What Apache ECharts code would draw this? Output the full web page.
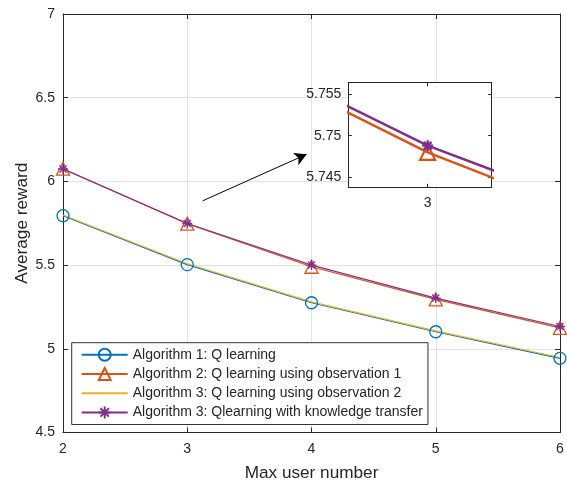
<!DOCTYPE html>
<html>
<head>
<meta charset="utf-8">
<script src="https://cdn.jsdelivr.net/npm/echarts@6/dist/echarts.min.js"></script>
<style>html,body{margin:0;padding:0;background:#fff;}#c{width:567px;height:482px;}</style>
</head>
<body>
<div id="c"></div>
<script>
var userNumbers = [2, 3, 4, 5, 6];
var seriesNames = [
  'Algorithm 1: Q learning',
  'Algorithm 2: Q learning using observation 1',
  'Algorithm 3: Q learning using observation 2',
  'Algorithm 3: Qlearning with knowledge transfer'
];
var alg1 = [5.795, 5.503, 5.275, 5.102, 4.943];
var alg2 = [6.076, 5.7480, 5.490, 5.295, 5.125];
var alg3 = [5.799, 5.508, 5.280, 5.107, 4.948];
var alg4 = [6.074, 5.7488, 5.500, 5.303, 5.133];
var yTicks = [4.5, 5, 5.5, 6, 6.5, 7];
var insetXRange = [2.98555, 3.01166];
var insetYRange = [5.7438, 5.75636];
var insetXTicks = [3];
var insetYTicks = [5.745, 5.75, 5.755];
var arrowStart = [3.124, 5.884];
var arrowEnd = [3.961, 6.162];

var FONT = "'Liberation Sans', Arial, Helvetica, sans-serif";
var TXT = '#262626';
var C = ['#0072BD', '#D95319', '#EDB120', '#7E2F8E'];
var ASTER = 'path://M10,0L10,20M0,10L20,10M3,3L17,17M3,17L17,3';

function pairs(ys) { return userNumbers.map(function (x, i) { return [x, ys[i]]; }); }

var chart = echarts.init(document.getElementById('c'), null, {renderer: 'canvas'});

function mainAxis(extra) {
  var base = {
    gridIndex: 0, type: 'value',
    axisLine: {show: true, onZero: false, lineStyle: {color: TXT, width: 1}},
    axisTick: {show: true, inside: true, length: 5, lineStyle: {color: TXT}},
    splitLine: {show: false},
    axisLabel: {show: false}
  };
  return Object.assign(base, extra);
}
function insetAxis(extra) {
  var base = {
    gridIndex: 1, type: 'value', z: 6,
    axisLine: {show: true, onZero: false, lineStyle: {color: TXT, width: 1}},
    axisTick: {show: true, inside: true, length: 3.5, lineStyle: {color: TXT}},
    splitLine: {show: false},
    axisLabel: {show: false}
  };
  return Object.assign(base, extra);
}

var option = {
  animation: false,
  backgroundColor: '#fff',
  textStyle: {fontFamily: FONT, color: TXT},
  grid: [
    {left: 63, right: 7, top: 14, bottom: 49.5, containLabel: false, outerBoundsMode: 'none'},
    {left: 348.3, top: 82.7, width: 143.4, height: 104.6, show: true, backgroundColor: '#fff', borderWidth: 0, z: 5,
      containLabel: false, outerBoundsMode: 'none'}
  ],
  legend: {
    orient: 'vertical', left: 71.7, top: 342.7,
    data: seriesNames,
    backgroundColor: '#fff', borderColor: '#333', borderWidth: 1,
    padding: [5.1, 5, 5.1, 9],
    itemWidth: 46, itemHeight: 15, itemGap: 5.2,
    textStyle: {fontFamily: FONT, fontSize: 14, color: TXT}
  },
  xAxis: [
    mainAxis({min: 2, max: 6, interval: 1, position: 'bottom',
      name: 'Max user number', nameLocation: 'middle', nameGap: 32, nameMoveOverlap: false,
      nameTextStyle: {fontFamily: FONT, fontSize: 17.2, color: TXT},
      splitLine: {show: true, lineStyle: {color: '#e3e3e3', width: 1}},
      axisLabel: {show: true, margin: 10, fontFamily: FONT, fontSize: 14, color: TXT}}),
    mainAxis({min: 2, max: 6, interval: 1, position: 'top'}),
    insetAxis({min: insetXRange[0], max: insetXRange[1], position: 'bottom',
      axisTick: {show: true, inside: true, length: 3.5, lineStyle: {color: TXT}, customValues: insetXTicks},
      axisLabel: {show: true, margin: 9, fontFamily: FONT, fontSize: 14, color: TXT, customValues: insetXTicks}}),
    insetAxis({min: insetXRange[0], max: insetXRange[1], position: 'top', gridIndex: 1,
      axisTick: {show: true, inside: true, length: 3.5, lineStyle: {color: TXT}, customValues: insetXTicks}})
  ],
  yAxis: [
    mainAxis({min: yTicks[0], max: yTicks[yTicks.length - 1], interval: 0.5, position: 'left',
      name: 'Average reward', nameLocation: 'middle', nameGap: 32.5, nameRotate: 90, nameMoveOverlap: false,
      nameTextStyle: {fontFamily: FONT, fontSize: 17.2, color: TXT},
      splitLine: {show: true, lineStyle: {color: '#e3e3e3', width: 1}},
      axisLabel: {show: true, margin: 8, fontFamily: FONT, fontSize: 14, color: TXT}}),
    mainAxis({min: yTicks[0], max: yTicks[yTicks.length - 1], interval: 0.5, position: 'right'}),
    insetAxis({min: insetYRange[0], max: insetYRange[1], position: 'left',
      axisTick: {show: true, inside: true, length: 3.5, lineStyle: {color: TXT}, customValues: insetYTicks},
      axisLabel: {show: true, margin: 7, fontFamily: FONT, fontSize: 14, color: TXT, customValues: insetYTicks}}),
    insetAxis({min: insetYRange[0], max: insetYRange[1], position: 'right',
      axisTick: {show: true, inside: true, length: 3.5, lineStyle: {color: TXT}, customValues: insetYTicks}})
  ],
  series: [
    {name: seriesNames[0], type: 'line', xAxisIndex: 0, yAxisIndex: 0, data: pairs(alg1),
      symbol: 'circle', symbolSize: 12, showSymbol: true, z: 2,
      lineStyle: {color: C[0], width: 1.2},
      itemStyle: {color: 'rgba(255,255,255,0)', borderColor: C[0], borderWidth: 1.3}},
    {name: seriesNames[1], type: 'line', xAxisIndex: 0, yAxisIndex: 0, data: pairs(alg2),
      symbol: 'triangle', symbolSize: 13, z: 2,
      lineStyle: {color: C[1], width: 1.2},
      itemStyle: {color: 'rgba(255,255,255,0)', borderColor: C[1], borderWidth: 1.3}},
    {name: seriesNames[2], type: 'line', xAxisIndex: 0, yAxisIndex: 0, data: pairs(alg3),
      symbol: 'circle', showSymbol: false, symbolSize: 0, z: 2,
      lineStyle: {color: C[2], width: 1.2},
      itemStyle: {color: 'rgba(0,0,0,0)', borderWidth: 0, borderColor: 'rgba(0,0,0,0)'}},
    {name: seriesNames[3], type: 'line', xAxisIndex: 0, yAxisIndex: 0, data: pairs(alg4),
      symbol: ASTER, symbolSize: 10, symbolKeepAspect: true, z: 3,
      lineStyle: {color: C[3], width: 1.2},
      itemStyle: {color: C[3], borderColor: C[3], borderWidth: 1.4},
      markLine: {
        silent: true, symbol: ['none', 'arrow'], symbolSize: [10, 12],
        label: {show: false},
        lineStyle: {color: '#000', width: 1, type: 'solid'},
        data: [[{coord: arrowStart}, {coord: arrowEnd}]]
      }},
    {name: 'inset-2', type: 'line', xAxisIndex: 2, yAxisIndex: 2, data: pairs(alg2),
      symbol: 'triangle', symbolSize: 15, z: 7, clip: true,
      lineStyle: {color: C[1], width: 2.5},
      itemStyle: {color: 'rgba(255,255,255,0)', borderColor: C[1], borderWidth: 2.2}},
    {name: 'inset-4', type: 'line', xAxisIndex: 2, yAxisIndex: 2, data: pairs(alg4),
      symbol: ASTER, symbolSize: 11, symbolKeepAspect: true, z: 8, clip: true,
      lineStyle: {color: C[3], width: 2.5},
      itemStyle: {color: C[3], borderColor: C[3], borderWidth: 2.4}}
  ]
};
chart.setOption(option);
</script>
</body>
</html>
